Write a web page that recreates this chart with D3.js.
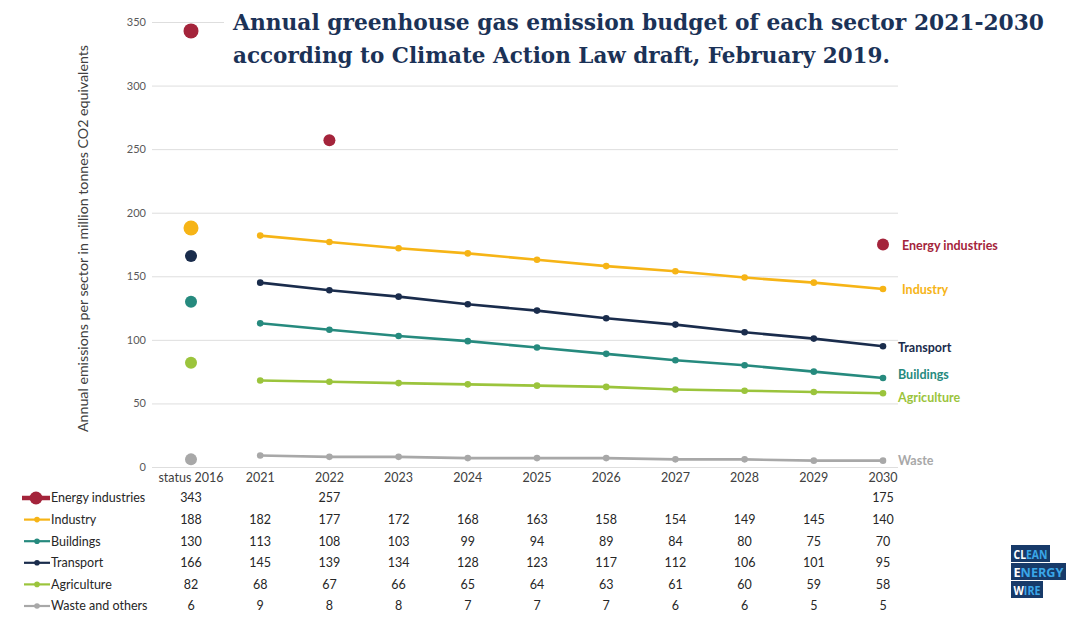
<!DOCTYPE html>
<html><head><meta charset="utf-8">
<script src="https://cdn.jsdelivr.net/npm/d3@7"></script>
<style>
html,body{margin:0;padding:0;background:#fff;}
svg{display:block;}
</style></head>
<body>
<svg id="chart" width="1092" height="619"></svg>
<script>
const categories = ["status 2016","2021","2022","2023","2024","2025","2026","2027","2028","2029","2030"];
const energyIndustries = [343,null,257,null,null,null,null,null,null,null,175];
const industry = [188,182,177,172,168,163,158,154,149,145,140];
const buildings = [130,113,108,103,99,94,89,84,80,75,70];
const transport = [166,145,139,134,128,123,117,112,106,101,95];
const agriculture = [82,68,67,66,65,64,63,61,60,59,58];
const waste = [6,9,8,8,7,7,7,6,6,5,5];
const yTicks = [0,50,100,150,200,250,300,350];
const tableNames = ["Energy industries","Industry","Buildings","Transport","Agriculture","Waste and others"];
const endLabels = ["Energy industries","Industry","Transport","Buildings","Agriculture","Waste"];
const titleLines = ["Annual greenhouse gas emission budget of each sector 2021-2030","according to Climate Action Law draft, February 2019."];
const yLabel = "Annual emissions per sector in million tonnes CO2 equivalents";

const colors = {energy:"#a4243b", industry:"#f6b416", buildings:"#268a7e", transport:"#1a2c4c", agriculture:"#9bc43c", waste:"#a8a8a8"};
const font = "Lato, 'Open Sans', sans-serif";

const series = [
  {key:"energy", name:tableNames[0], values:energyIndustries, line:false},
  {key:"industry", name:tableNames[1], values:industry, line:true},
  {key:"buildings", name:tableNames[2], values:buildings, line:true},
  {key:"transport", name:tableNames[3], values:transport, line:true},
  {key:"agriculture", name:tableNames[4], values:agriculture, line:true},
  {key:"waste", name:tableNames[5], values:waste, line:true}
];

const svg = d3.select("#chart");
const plot = {left:152, right:898, top:22, bottom:467};
const x = d3.scalePoint().domain(categories).range([191,883]);
const y = d3.scaleLinear().domain([0,350]).range([plot.bottom, plot.top]);

// gridlines
const yAxis = d3.axisLeft(y).tickValues(yTicks).tickSize(-(plot.right-plot.left)).tickPadding(6);
const gy = svg.append("g").attr("transform",`translate(${plot.left},0)`).call(yAxis);
gy.select(".domain").remove();
gy.selectAll(".tick line").attr("stroke","#dedede").attr("stroke-width",1);
gy.selectAll(".tick text").attr("font-family",font).attr("font-size",11).attr("fill","#595959");

// y label
svg.append("text").attr("transform",`translate(88,${(45+432)/2}) rotate(-90)`)
  .attr("text-anchor","middle").attr("font-family",font).attr("font-size",13).attr("fill","#404040")
  .attr("textLength",387).attr("lengthAdjust","spacingAndGlyphs").text(yLabel);

// x labels
svg.append("g").selectAll("text").data(categories).join("text")
  .attr("x",d=>x(d)).attr("y",482).attr("text-anchor","middle")
  .attr("font-family",font).attr("font-size",12.5).attr("fill","#404040").text(d=>d);

// lines
const lineGen = d3.line().x(d=>x(d.c)).y(d=>y(d.v));
series.forEach(s=>{
  const pts = s.values.map((v,i)=>({c:categories[i],v})).filter(d=>d.v!=null);
  const g = svg.append("g");
  if(s.line){
    const linePts = pts.slice(1);
    g.append("path").datum(linePts).attr("d",lineGen).attr("fill","none")
      .attr("stroke",colors[s.key]).attr("stroke-width",2.6);
    g.selectAll("circle.pt").data(linePts).join("circle").attr("class","pt")
      .attr("cx",d=>x(d.c)).attr("cy",d=>y(d.v)).attr("r",3.3).attr("fill",colors[s.key]);
    g.append("circle").attr("cx",x(pts[0].c)).attr("cy",y(pts[0].v))
      .attr("r", s.key==="industry"?7.5:6).attr("fill",colors[s.key]);
  } else {
    g.selectAll("circle").data(pts).join("circle")
      .attr("cx",d=>x(d.c)).attr("cy",d=>y(d.v)).attr("r",(d,i)=>i===0?7.5:6).attr("fill",colors[s.key]);
  }
});

// title with white background
const tg = svg.append("g");
tg.append("rect").attr("x",224).attr("y",2).attr("width",830).attr("height",70).attr("fill","#fff");
const titleWidths = [811,657];
titleLines.forEach((t,i)=>{
  tg.append("text").attr("x",233).attr("y",30+i*32.5)
    .attr("font-family","'DejaVu Serif', serif").attr("font-weight","bold").attr("font-size",22.5)
    .attr("fill","#1b3257").attr("textLength",titleWidths[i]).attr("lengthAdjust","spacingAndGlyphs").text(t);
});

// end labels
const endKeys = ["energy","industry","transport","buildings","agriculture","waste"];
const endVals = [energyIndustries[10],industry[10],transport[10],buildings[10],agriculture[10],waste[10]];
const endDy = [1,1,1,-3,4,0];
const endX = [902,902,898,898,898,898];
svg.append("g").selectAll("text").data(endLabels).join("text")
  .attr("x",(d,i)=>endX[i]).attr("y",(d,i)=>y(endVals[i])+endDy[i])
  .attr("dy","0.35em").attr("font-family",font).attr("font-weight","bold").attr("font-size",12.5)
  .attr("fill",(d,i)=>colors[endKeys[i]]).text(d=>d);

// data table
const rowY = d3.scalePoint().domain(tableNames).range([498,606]);
const tbl = svg.append("g");
series.forEach(s=>{
  const yy = rowY(s.name);
  const c = colors[s.key];
  if(s.key==="energy"){
    tbl.append("line").attr("x1",22).attr("x2",50).attr("y1",yy).attr("y2",yy).attr("stroke",c).attr("stroke-width",4.5);
    tbl.append("circle").attr("cx",36).attr("cy",yy).attr("r",6.5).attr("fill",c);
  } else {
    tbl.append("line").attr("x1",24).attr("x2",50).attr("y1",yy).attr("y2",yy).attr("stroke",c).attr("stroke-width",2.2);
    tbl.append("circle").attr("cx",37).attr("cy",yy).attr("r",2.8).attr("fill",c);
  }
  tbl.append("text").attr("x",51).attr("y",yy).attr("dy","0.35em").attr("font-family",font)
    .attr("font-size",12.5).attr("fill","#262626").text(s.name);
  tbl.selectAll(null).data(s.values.map((v,i)=>({c:categories[i],v})).filter(d=>d.v!=null)).join("text")
    .attr("x",d=>x(d.c)).attr("y",yy).attr("dy","0.35em").attr("text-anchor","middle")
    .attr("font-family",font).attr("font-size",12.5).attr("fill","#262626").text(d=>d.v);
});

// logo
const logo = svg.append("g").attr("font-family","'Open Sans', sans-serif").attr("font-weight","bold").attr("font-size",13);
const logoRows = [["CL","EAN",1011,545,39],["E","NERGY",1011,563,55],["W","IRE",1011,581,32]];
logoRows.forEach(r=>{
  logo.append("rect").attr("x",r[2]).attr("y",r[3]).attr("width",r[4]).attr("height",17).attr("fill","#173a69");
  const g = logo.append("g");
  const t1 = g.append("text").attr("x",0).attr("y",0).attr("fill","#ffffff").text(r[0]);
  const w1 = t1.node().getComputedTextLength();
  const t2 = g.append("text").attr("x",w1).attr("y",0).attr("fill","#3aa6e8").text(r[1]);
  const w = w1 + t2.node().getComputedTextLength();
  const sx = Math.min(1,(r[4]-5)/w);
  g.attr("transform",`translate(${r[2]+2.5},${r[3]+13.5}) scale(${sx},1)`);
});
</script>
</body></html>
